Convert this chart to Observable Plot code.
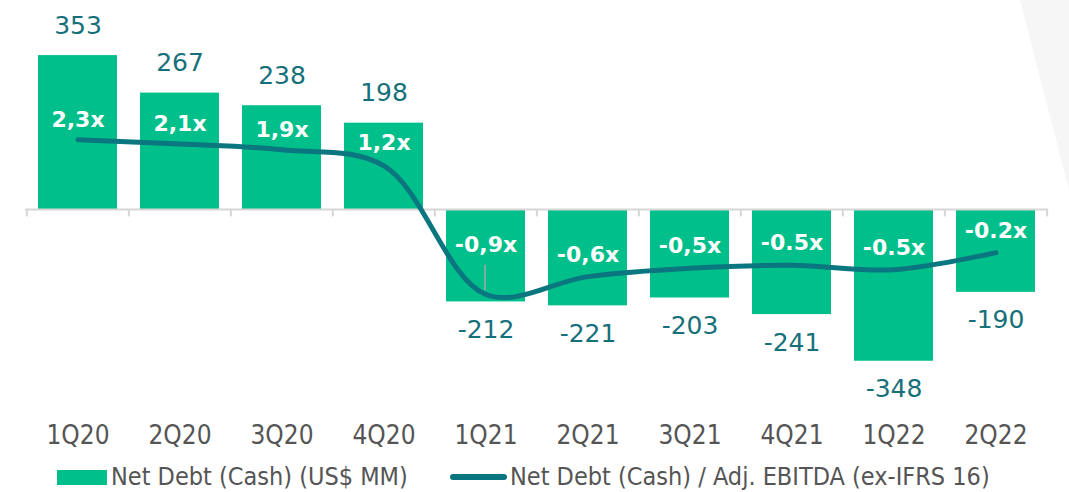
<!DOCTYPE html>
<html>
<head>
<meta charset="utf-8">
<script src="https://cdn.jsdelivr.net/npm/d3@7"></script>
<script src="https://cdn.jsdelivr.net/npm/@observablehq/plot@0.6"></script>
<style>
  html, body { margin: 0; padding: 0; background: #ffffff; }
  #wrap { position: relative; width: 1069px; height: 492px; overflow: hidden; }
  #deco { position: absolute; left: 0; top: 0; width: 1069px; height: 492px;
          background: #f6f6f6; clip-path: polygon(1020px 0, 1069px 0, 1069px 190px); }
  #chart { position: absolute; left: 0; top: 0; }
  #legend { position: absolute; left: 0; top: 458px; width: 1069px; height: 34px;
            font-family: "DejaVu Sans Condensed", "DejaVu Sans", sans-serif; font-stretch: condensed;
            font-size: 25px; color: #555555; }
  .item { position: absolute; top: 5px; white-space: nowrap; line-height: 28px; }
  .sw-bar { display: inline-block; width: 50px; height: 15px; background: #00BF8A; vertical-align: middle; margin-right: 4px; position: relative; top: -1px; }
  .sw-line { display: inline-block; width: 57px; height: 6px; border-radius: 3px; background: #0A7680; vertical-align: middle; margin-right: 3px; position: relative; top: -1px; }
</style>
</head>
<body>
<div id="wrap">
  <div id="deco"></div>
  <div id="chart"></div>
  <div id="legend"></div>
</div>
<script>
// ---- data ----
const quarters = ["1Q20","2Q20","3Q20","4Q20","1Q21","2Q21","3Q21","4Q21","1Q22","2Q22"];
const netDebt = [353, 267, 238, 198, -212, -221, -203, -241, -348, -190];
const ratioLabels = ["2,3x","2,1x","1,9x","1,2x","-0,9x","-0,6x","-0,5x","-0.5x","-0.5x","-0.2x"];
// line level as drawn in the picture, read in bar units (US$ MM)
const ratioLine = [160, 150, 137, 100, -195, -154, -135, -128, -138, -99];
const legendLabels = ["Net Debt (Cash) (US$ MM)", "Net Debt (Cash) / Adj. EBITDA (ex-IFRS 16)"];

const rows = quarters.map((q, i) => ({q, v: netDebt[i], r: ratioLabels[i], l: ratioLine[i], i}));

const barColor = "#00BF8A";
const lineColor = "#0A7680";
const valColor = "#16707A";
const step = 1023 / 10;
const condensed = "DejaVu Sans Condensed, DejaVu Sans, sans-serif";

const plot = Plot.plot({
  width: 1069,
  height: 458,
  marginLeft: 25,
  marginRight: 21,
  marginTop: 0,
  marginBottom: 40,
  style: {background: "none", overflow: "visible"},
  x: {domain: quarters, paddingInner: 0.23, paddingOuter: 0.115},
  y: {domain: [-400, 400], range: [209 + 400 * 0.436, 209 - 400 * 0.436], axis: null},
  marks: [
    Plot.barY(rows, {x: "q", y: "v", fill: barColor}),
    // baseline + boundary ticks
    Plot.ruleY([0], {stroke: "#d6d6d6", strokeWidth: 2}),
    Plot.ruleX(rows, {x: "q", dx: -step / 2, y1: 0, y2: -17, stroke: "#d6d6d6", strokeWidth: 2}),
    Plot.ruleX(rows.filter(d => d.i === 9), {x: "q", dx: step / 2, y1: 0, y2: -17, stroke: "#d6d6d6", strokeWidth: 2}),
    // ratio line
    Plot.line(rows, {x: "q", y: "l", stroke: lineColor, strokeWidth: 5, curve: "catmull-rom", strokeLinecap: "round"}),
    // leader for 1Q21 label
    Plot.link(rows.filter(d => d.i === 4), {x1: "q", x2: "q", y1: d => d.l + 68, y2: d => d.l + 10, dx: -1, stroke: "#a9a9a9", strokeWidth: 1.5}),
    // value labels
    Plot.text(rows.filter(d => d.v > 0), {x: "q", y: "v", text: d => String(d.v), dy: -30, fill: valColor,
      fontSize: 25, fontFamily: "DejaVu Sans, sans-serif"}),
    Plot.text(rows.filter(d => d.v < 0), {x: "q", y: "v", text: d => String(d.v), dy: 28, fill: valColor,
      fontSize: 25, fontFamily: "DejaVu Sans, sans-serif"}),
    // ratio labels (placed just above the line)
    Plot.text(rows.filter(d => d.i < 3), {x: "q", y: "l", text: "r", dy: -20, fill: "white",
      fontSize: 22, fontWeight: "bold", fontFamily: "DejaVu Sans, sans-serif"}),
    Plot.text(rows.filter(d => d.i === 3), {x: "q", y: "l", text: "r", dy: -23, fill: "white",
      fontSize: 22, fontWeight: "bold", fontFamily: "DejaVu Sans, sans-serif"}),
    Plot.text(rows.filter(d => d.v < 0 && d.i !== 4), {x: "q", y: "l", text: "r", dy: -22, fill: "white",
      fontSize: 22, fontWeight: "bold", fontFamily: "DejaVu Sans, sans-serif"}),
    Plot.text(rows.filter(d => d.i === 4), {x: "q", y: "l", text: "r", dy: -50, fill: "white",
      fontSize: 22, fontWeight: "bold", fontFamily: "DejaVu Sans, sans-serif"}),
    // x axis labels
    Plot.axisX({anchor: "bottom", tickSize: 0, tickPadding: 7, fontSize: 26, fill: "#555555",
      fontFamily: condensed, label: null})
  ]
});
document.getElementById("chart").appendChild(plot);

const legend = document.getElementById("legend");
legend.innerHTML =
  `<div class="item" style="left:57px"><span class="sw-bar"></span>${legendLabels[0]}</div>` +
  `<div class="item" style="left:450px"><span class="sw-line"></span>${legendLabels[1]}</div>`;
</script>
</body>
</html>
